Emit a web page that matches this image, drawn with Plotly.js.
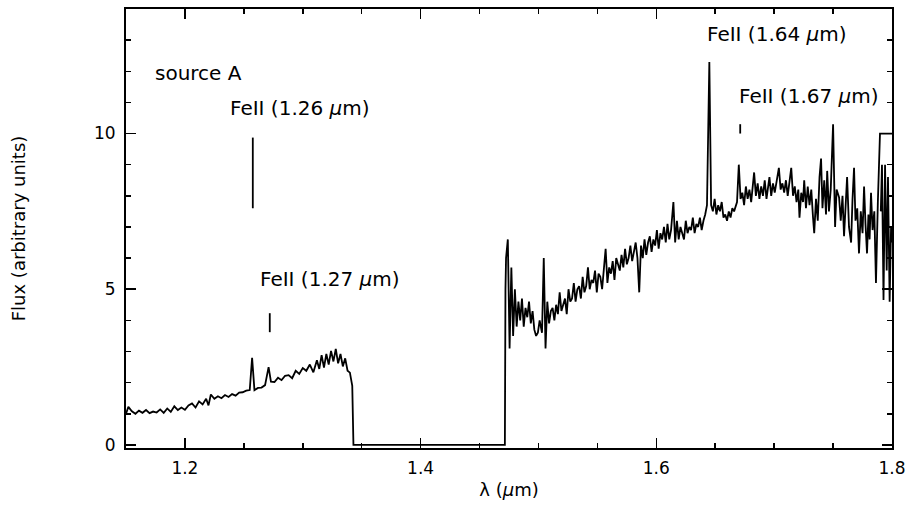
<!DOCTYPE html>
<html>
<head>
<meta charset="utf-8">
<script src="https://cdn.plot.ly/plotly-3.0.1.min.js"></script>
<style>html,body{margin:0;padding:0;background:#fff;}</style>
</head>
<body>
<div id="chart" style="width:914px;height:506px;"></div>
<script>
// ---- data ----
const blueLambda = [1.150,1.152,1.155,1.158,1.161,1.164,1.167,1.170,1.173,1.176,1.179,1.182,1.185,1.188,1.191,1.194,1.197,1.200,1.203,1.206,1.209,1.212,1.215,1.218,1.220,1.222,1.225,1.228,1.231,1.234,1.237,1.240,1.243,1.246,1.249,1.252,1.255,1.257,1.259,1.262,1.265,1.268,1.271,1.273,1.276,1.279,1.282,1.285,1.288,1.291,1.294,1.297,1.300,1.303,1.306,1.309,1.312,1.314,1.316,1.318,1.320,1.322,1.324,1.326,1.328,1.330,1.332,1.334,1.336,1.338,1.340,1.342];
const blueFlux   = [1.00,1.22,1.08,1.00,1.10,1.03,1.12,1.02,1.07,1.04,1.14,1.03,1.17,1.06,1.24,1.12,1.20,1.13,1.27,1.33,1.20,1.40,1.30,1.48,1.27,1.62,1.48,1.56,1.50,1.60,1.54,1.63,1.58,1.68,1.69,1.74,1.76,2.80,1.76,1.83,1.84,1.92,2.50,2.03,2.02,2.16,2.08,2.22,2.24,2.14,2.38,2.28,2.47,2.38,2.58,2.33,2.72,2.44,2.88,2.48,2.92,2.58,3.02,2.68,3.08,2.62,2.92,2.52,2.78,2.38,2.32,1.90];
const gapLambda  = [1.343,1.4715];
const gapFlux    = [0.0,0.0];
const redLambda  = [
  1.4720,1.4725,1.4740,1.4755,1.4770,1.4785,1.4800,1.4815,1.4830,1.4845,
  1.4860,1.4875,1.4890,1.4905,1.4920,1.4935,1.4950,1.4965,1.4980,1.4995,
  1.5010,1.5030,1.5045,1.5060,1.5075,1.5090,1.5105,1.5120,1.5135,1.5150,
  1.5165,1.5180,1.5195,1.5210,1.5225,1.5240,1.5255,1.5270,1.5285,1.5300,
  1.5315,1.5330,1.5345,1.5360,1.5375,1.5390,1.5405,1.5420,1.5435,1.5450,
  1.5465,1.5480,1.5495,1.5510,1.5525,1.5540,1.5555,1.5570,1.5585,1.5600,
  1.5615,1.5630,1.5645,1.5660,1.5675,1.5690,1.5705,1.5720,1.5735,1.5750,
  1.5765,1.5780,1.5795,1.5810,1.5825,1.5840,1.5855,1.5870,1.5885,1.5900,
  1.5915,1.5930,1.5945,1.5960,1.5975,1.5990,1.6005,1.6020,1.6035,1.6050,
  1.6065,1.6080,1.6095,1.6110,1.6125,1.6145,1.6160,1.6175,1.6190,1.6205,
  1.6220,1.6235,1.6250,1.6265,1.6280,1.6295,1.6310,1.6325,1.6340,1.6355,
  1.6370,1.6385,1.6400,1.6415,1.6430,1.6450,1.6465,1.6480,1.6495,1.6510,
  1.6525,1.6540,1.6555,1.6570,1.6585,1.6600,1.6615,1.6630,1.6645,1.6660,
  1.6685,1.6700,1.6715,1.6730,1.6745,1.6760,1.6775,1.6790,1.6805,1.6830,
  1.6845,1.6860,1.6875,1.6890,1.6905,1.6920,1.6935,1.6950,1.6960,1.6975,
  1.6990,1.7005,1.7020,1.7040,1.7055,1.7070,1.7085,1.7100,1.7115,1.7130,
  1.7145,1.7160,1.7175,1.7190,1.7205,1.7215,1.7230,1.7245,1.7255,1.7270,
  1.7285,1.7300,1.7315,1.7330,1.7340,1.7355,1.7370,1.7385,1.7398,1.7410,
  1.7425,1.7440,1.7450,1.7465,1.7480,1.7500,1.7517,1.7530,1.7551,1.7565,
  1.7580,1.7593,1.7605,1.7619,1.7635,1.7653,1.7665,1.7678,1.7690,1.7705,
  1.7720,1.7735,1.7750,1.7763,1.7775,1.7788,1.7800,1.7810,1.7822,1.7835,
  1.7850,1.7864,1.7880,1.7898,1.8010];
const redFlux    = [
  5.0,6.0,6.6,3.1,5.7,3.5,5.0,3.8,4.6,4.0,
  4.7,3.8,4.4,4.1,4.6,3.9,4.3,3.7,3.5,3.6,
  4.0,3.6,6.0,3.1,4.6,3.9,4.3,4.4,4.0,4.5,
  4.2,4.9,4.3,4.5,4.7,4.2,5.0,4.6,4.7,5.2,
  4.6,5.0,5.1,4.7,5.4,4.9,5.1,5.7,5.0,5.3,
  5.2,5.6,4.9,5.5,5.4,5.0,5.6,6.3,5.2,5.7,
  5.5,5.9,5.3,6.0,5.8,5.6,6.1,5.7,6.3,5.8,
  6.0,6.4,5.9,6.2,6.5,6.0,4.9,6.4,6.0,6.6,
  6.1,6.5,6.7,6.2,6.6,6.4,6.9,6.3,6.8,6.6,
  7.0,6.5,7.1,6.6,6.9,7.8,6.5,7.2,6.6,7.0,
  6.8,6.6,7.2,6.8,7.0,6.9,7.3,6.8,7.1,7.0,
  7.3,6.9,7.2,7.4,7.7,12.3,7.7,7.5,7.9,7.4,
  7.7,7.5,7.8,7.3,7.4,7.2,7.5,7.3,7.6,7.5,
  7.8,9.0,7.9,8.1,7.7,8.3,7.9,8.2,7.8,8.75,
  8.0,8.4,7.9,8.3,8.0,8.5,7.9,8.3,8.6,8.0,
  8.4,8.1,8.5,8.9,8.2,8.4,8.1,8.5,8.0,8.4,
  8.9,8.0,8.3,7.8,8.2,7.3,8.1,7.8,8.5,7.6,
  8.3,7.7,8.2,7.3,6.8,7.9,7.2,8.6,9.2,7.6,
  8.5,7.4,8.8,7.5,8.2,10.3,7.0,8.2,7.95,7.2,
  8.0,6.7,7.8,8.6,7.0,6.5,7.9,8.9,7.2,7.6,
  6.15,7.5,6.8,8.3,7.1,6.15,7.4,6.6,8.1,6.9,
  7.5,5.2,7.8,10.0,10.0];
const tailLambda = [1.7905,1.7915,1.7928,1.7941,1.7955,1.7966,1.7980,1.7992,1.8000];
const tailFlux   = [7.5,9.0,4.65,9.0,5.6,8.6,4.6,7.0,6.5];

// FeII line marks
const markLambda = [1.2576,1.2720,1.6712];
const markLow    = [7.6,3.62,10.0];
const markHigh   = [9.87,4.23,10.3];

// labels
const labelText = ["source A","FeII (1.26 <i>μ</i>m)","FeII (1.27 <i>μ</i>m)","FeII (1.64 <i>μ</i>m)","FeII (1.67 <i>μ</i>m)"];
const labelLambda = [1.1729,1.2364,1.2619,1.6415,1.6686];
const labelFlux   = [11.95,10.83,5.32,13.2,11.19];

// ---- build traces ----
const specX = blueLambda.concat(gapLambda, redLambda);
const specY = blueFlux.concat(gapFlux, redFlux);

const markX = [], markY = [];
markLambda.forEach((l, i) => { markX.push(l, l, null); markY.push(markLow[i], markHigh[i], null); });

const lineStyle = {color: '#000', width: 1.8};
const traces = [
  {x: specX, y: specY, mode: 'lines', line: lineStyle, hoverinfo: 'skip'},
  {x: tailLambda, y: tailFlux, mode: 'lines', line: lineStyle, hoverinfo: 'skip'},
  {x: markX, y: markY, mode: 'lines', line: lineStyle, hoverinfo: 'skip'}
];

const FONT = 'DejaVu Sans, Liberation Sans, Arial, sans-serif';
const annotations = labelText.map((t, i) => ({
  x: labelLambda[i], y: labelFlux[i], xref: 'x', yref: 'y',
  text: t, showarrow: false, xanchor: 'left', yanchor: 'middle',
  font: {family: FONT, size: 20, color: '#000'}
}));

const axisCommon = {
  showgrid: false, zeroline: false, showline: true, linecolor: '#000', linewidth: 2,
  mirror: 'ticks', ticks: 'inside', ticklen: 10, tickwidth: 1.5, tickcolor: '#000',
  tickfont: {family: FONT, size: 17, color: '#000'},
  minor: {ticks: 'inside', ticklen: 5, tickwidth: 1.5, tickcolor: '#000', showgrid: false}
};

const layout = {
  width: 914, height: 506,
  margin: {l: 126, r: 22, t: 9, b: 58},
  paper_bgcolor: '#fff', plot_bgcolor: '#fff',
  showlegend: false,
  font: {family: FONT, color: '#000'},
  xaxis: Object.assign({}, axisCommon, {
    range: [1.15, 1.8], tick0: 1.2, dtick: 0.2, tickformat: '.1f', ticklabelstandoff: 4,
    minor: Object.assign({}, axisCommon.minor, {dtick: 0.05}),
    title: {text: 'λ (<i>μ</i>m)', font: {family: FONT, size: 18, color: '#000'}, standoff: 6}
  }),
  yaxis: Object.assign({}, axisCommon, {
    range: [-0.1, 14], tick0: 0, dtick: 5, ticklabelstandoff: 5,
    minor: Object.assign({}, axisCommon.minor, {dtick: 1}),
    title: {text: 'Flux (arbitrary units)', font: {family: FONT, size: 18, color: '#000'}, standoff: 64}
  }),
  annotations: annotations
};

Plotly.newPlot('chart', traces, layout, {staticPlot: true, displayModeBar: false});
</script>
</body>
</html>
